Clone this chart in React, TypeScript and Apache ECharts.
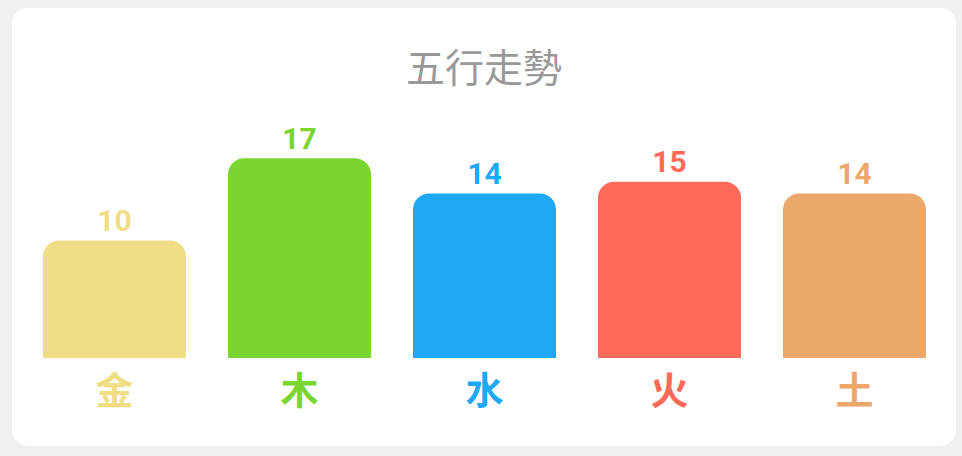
import * as echarts from 'echarts'
import { useEffect, useRef } from 'react'

const elements = ['金', '木', '水', '火', '土']
const counts = [10, 17, 14, 15, 14]
const colors = ['#F0DE87', '#7BD531', '#1FA9F5', '#FF6B58', '#EBA86A']
const title = '五行走勢'

export default function App() {
  const chartRef = useRef<HTMLDivElement>(null)

  useEffect(() => {
    if (!chartRef.current) return
    const chart = echarts.init(chartRef.current, undefined, { renderer: 'svg' })

    const option: any = {
      animation: false,
      title: {
        text: title,
        left: 'center',
        top: 32,
        textStyle: {
          fontSize: 39,
          fontWeight: 'normal',
          color: '#999999',
          fontFamily: '"Noto Sans CJK TC", "Noto Sans", sans-serif'
        }
      },
      grid: { left: 10, right: 9, top: 115, bottom: 88 },
      xAxis: {
        type: 'category',
        data: elements.map((name, i) => ({
          value: name,
          textStyle: { color: colors[i] }
        })),
        axisLine: { show: false },
        axisTick: { show: false },
        axisLabel: {
          margin: 10,
          fontSize: 38,
          fontWeight: 'bold',
          fontFamily: '"Noto Sans CJK TC", sans-serif'
        }
      },
      yAxis: {
        type: 'value',
        min: 0,
        max: 20,
        show: false,
        splitLine: { show: false }
      },
      series: [
        {
          type: 'bar',
          barWidth: 143,
          data: counts.map((v, i) => ({
            value: v,
            itemStyle: { color: colors[i], borderRadius: [16, 16, 0, 0] },
            label: { color: colors[i] }
          })),
          label: {
            show: true,
            position: 'top',
            distance: 5,
            fontSize: 30,
            fontWeight: 'bold',
            fontFamily: 'Roboto, sans-serif'
          }
        }
      ]
    }

    chart.setOption(option)

    return () => {
      chart.dispose()
    }
  }, [])

  return (
    <div style={{ position: 'fixed', inset: 0, background: '#f0f0f0' }}>
      <div
        style={{
          position: 'absolute',
          left: 12,
          top: 8,
          width: 944,
          height: 438,
          borderRadius: 16,
          background: '#ffffff',
          overflow: 'hidden'
        }}
      >
        <div ref={chartRef} style={{ width: 944, height: 438 }} />
      </div>
    </div>
  )
}
